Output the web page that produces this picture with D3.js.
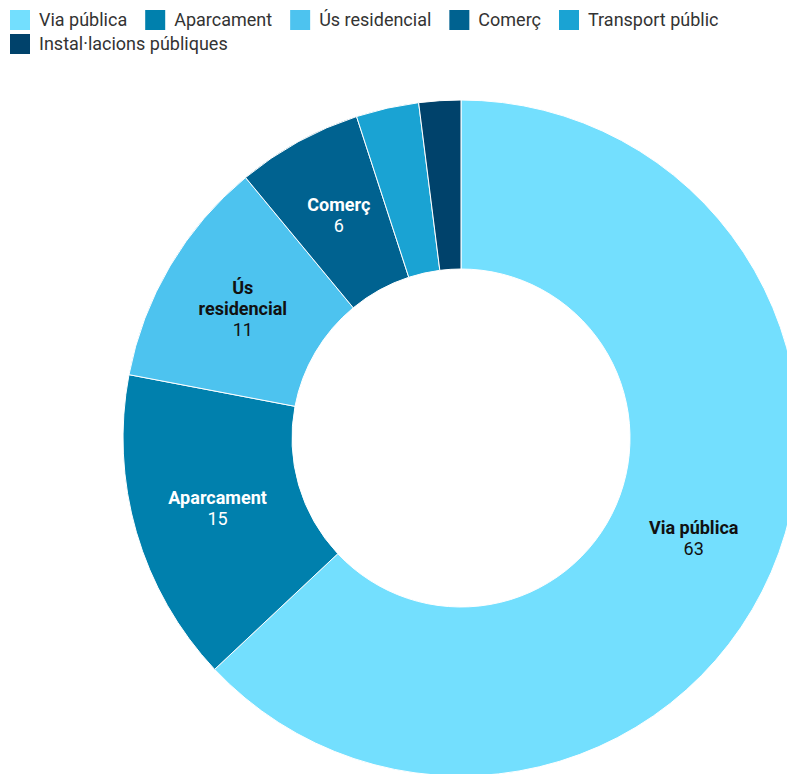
<html>
<head>
<meta charset="utf-8">
<script src="https://d3js.org/d3.v7.min.js"></script>
<style>
body { margin: 0; font-family: Roboto, sans-serif; background: #fff; }
</style>
</head>
<body>
<div id="chart"></div>
<script>

var width = 787;
var height = 774;

var categories = ["Via pública", "Aparcament", "Ús residencial", "Comerç", "Transport públic", "Instal·lacions públiques"];
var values = [63, 15, 11, 6, 3, 2];
var colors = ["#73dffe", "#0080ad", "#4dc3ef", "#006290", "#1aa3d3", "#00426b"];
var textColors = ["#111", "#fff", "#111", "#fff", "#fff", "#fff"];

var data = categories.map(function(c, i) {
  return {name: c, value: values[i], color: colors[i], text: textColors[i]};
});

var svg = d3.select("#chart")
  .append("svg")
  .attr("width", width)
  .attr("height", height);

// legend, wraps onto a second row
var legend = svg.append("g");
var lx = 10, ly = 10;
data.forEach(function(d) {
  var item = legend.append("g");
  item.append("rect")
    .attr("width", 20)
    .attr("height", 20)
    .style("fill", d.color);
  var t = item.append("text")
    .attr("x", 29)
    .attr("y", 16)
    .style("font-size", "18px")
    .style("fill", "#333")
    .text(d.name);
  var w = 29 + t.node().getComputedTextLength() + 18;
  if (lx + w > width - 20) { lx = 10; ly += 24; }
  item.attr("transform", "translate(" + lx + "," + ly + ")");
  lx += w;
});

var cx = 461, cy = 438;
var outerR = 338, innerR = 169;

var pie = d3.pie().sort(null).value(d => d.value);
var arc = d3.arc().innerRadius(innerR).outerRadius(outerR);

var g = svg.append("g")
  .attr("transform", "translate(" + cx + "," + cy + ")");

var arcs = pie(data);

g.selectAll("path")
  .data(arcs)
  .enter()
  .append("path")
  .attr("d", arc)
  .style("fill", d => d.data.color)
  .style("stroke", "#fff")
  .style("stroke-width", 1);

// labels only for the slices that have room
var labels = g.selectAll("g.label")
  .data(arcs.filter(d => d.data.value >= 5))
  .enter()
  .append("g")
  .attr("class", "label")
  .attr("transform", d => "translate(" + arc.centroid(d) + ")");

labels.each(function(d) {
  var el = d3.select(this);
  var lines = d.data.name.length > 12 ? d.data.name.split(" ") : [d.data.name];
  var lh = 21;
  var total = lines.length + 1;
  var y0 = -((total - 1) * lh) / 2 + 6;
  lines.forEach(function(l, i) {
    el.append("text")
      .attr("text-anchor", "middle")
      .attr("y", y0 + i * lh)
      .style("font-size", "18px")
      .style("font-weight", "bold")
      .style("fill", d.data.text)
      .text(l);
  });
  el.append("text")
    .attr("text-anchor", "middle")
    .attr("y", y0 + lines.length * lh)
    .style("font-size", "18px")
    .style("fill", d.data.text)
    .text(d.data.value);
});

</script>
</body>
</html>
